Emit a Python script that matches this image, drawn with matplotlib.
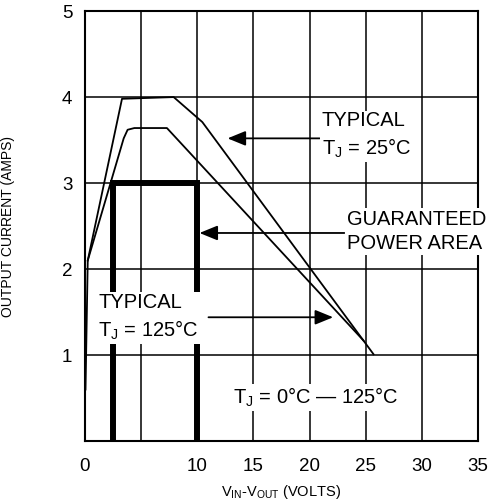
"""Output current vs input-output differential (regulator datasheet style)."""

import matplotlib
matplotlib.use("Agg")
import matplotlib.pyplot as plt

plt.rcParams["font.family"] = ["Liberation Sans", "DejaVu Sans"]
plt.rcParams["mathtext.fontset"] = "custom"
plt.rcParams["mathtext.rm"] = "Liberation Sans"
plt.rcParams["mathtext.it"] = "Liberation Sans"

# Typical curve, Tj = 25C
typ25_v = [0.05, 0.25, 3.3, 7.9, 10.45, 25.7]
typ25_a = [0.6, 2.1, 3.98, 4.0, 3.71, 1.01]

# Typical curve, Tj = 125C
typ125_v = [0.25, 3.45, 3.8, 4.4, 7.3, 24.8]
typ125_a = [2.1, 3.52, 3.62, 3.64, 3.64, 1.17]

# Guaranteed power area outline
guar_v = [2.5, 2.5, 10, 10]
guar_a = [0, 3, 3, 0]

x_ticks = [0, 10, 15, 20, 25, 30, 35]
x_grid = [5, 10, 15, 20, 25, 30]
y_ticks = [1, 2, 3, 4, 5]
y_grid = [1, 2, 3, 4]

fig = plt.figure(figsize=(4.91, 5.03), dpi=100)
ax = fig.add_axes([0.173, 0.123, 0.8005, 0.855])
ax.set_xlim(0, 35)
ax.set_ylim(0, 5)

for xv in x_grid:
    ax.axvline(xv, color="black", linewidth=1.1, zorder=1)
for yv in y_grid:
    ax.axhline(yv, color="black", linewidth=1.1, zorder=1)

ax.plot(typ25_v, typ25_a, color="black", linewidth=1.3, zorder=2)
ax.plot(typ125_v, typ125_a, color="black", linewidth=1.3, zorder=2)
ax.plot(guar_v, guar_a, color="black", linewidth=4.3, zorder=2,
        solid_joinstyle="miter", solid_capstyle="butt")

box = dict(facecolor="white", edgecolor="none", pad=1.5)
tsize = 14.5

ax.text(21.1, 3.55, "TYPICAL\nT$_\\mathrm{J}$ = 25°C", fontsize=tsize,
        ha="left", va="center", bbox=box, zorder=4, linespacing=1.35)
ax.text(23.3, 2.44, "GUARANTEED\nPOWER AREA", fontsize=tsize,
        ha="left", va="center", bbox=box, zorder=4, linespacing=1.3)
ax.text(1.2, 1.44, "TYPICAL\nT$_\\mathrm{J}$ = 125°C", fontsize=tsize,
        ha="left", va="center", bbox=box, zorder=4, linespacing=1.35)
ax.text(13.2, 0.51, "T$_\\mathrm{J}$ = 0°C — 125°C", fontsize=tsize,
        ha="left", va="center", bbox=box, zorder=4)

arrow = dict(arrowstyle="-|>,head_length=1.1,head_width=0.45",
             color="black", linewidth=1.3, mutation_scale=10,
             shrinkA=0, shrinkB=0)
ax.annotate("", xy=(12.7, 3.52), xytext=(20.9, 3.52), arrowprops=arrow, zorder=3)
ax.annotate("", xy=(10.2, 2.42), xytext=(23.1, 2.42), arrowprops=arrow, zorder=3)
ax.annotate("", xy=(22.1, 1.44), xytext=(11.0, 1.44), arrowprops=arrow, zorder=3)

ax.set_xticks(x_ticks)
ax.set_yticks(y_ticks)
ax.tick_params(length=0, labelsize=13.5)
ax.tick_params(axis="x", pad=12)
ax.tick_params(axis="y", pad=9)
for s in ax.spines.values():
    s.set_linewidth(1.5)

ax.set_xlabel("V$_\\mathrm{IN}$-V$_\\mathrm{OUT}$ (VOLTS)", fontsize=10.5, labelpad=6)
ax.set_ylabel("OUTPUT CURRENT (AMPS)", fontsize=10)
ax.yaxis.set_label_coords(-0.178, 0.5)

fig.savefig("out.png", dpi=100)
